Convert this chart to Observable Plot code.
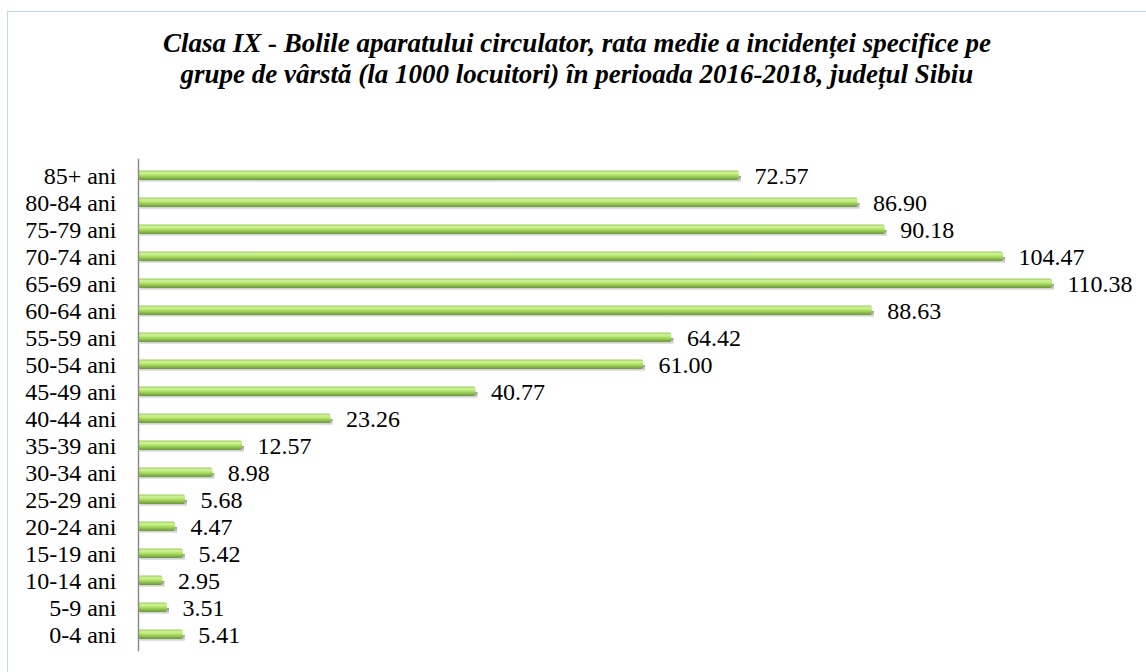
<!DOCTYPE html>
<html>
<head>
<meta charset="utf-8">
<script src="https://cdn.jsdelivr.net/npm/d3@7"></script>
<script src="https://cdn.jsdelivr.net/npm/@observablehq/plot@0.6"></script>
<style>
  html, body { margin: 0; padding: 0; background: #fff; }
  body { width: 1146px; height: 672px; position: relative; overflow: hidden; font-family: "Times New Roman", "Liberation Serif", "DejaVu Serif", serif; }
  #frame { position: absolute; left: 7px; top: 11px; width: 1160px; height: 700px; border-left: 1.5px solid #b9dde8; border-top: 1.5px solid #b9dde8; box-sizing: border-box; }
  #title { position: absolute; left: 7px; top: 28px; width: 1140px; text-align: center; font-family: "Times New Roman", "Liberation Serif", "DejaVu Serif", serif; font-weight: bold; font-style: italic; font-size: 27px; line-height: 31px; color: #000; }
  #chart { position: absolute; left: 0; top: 0; }
</style>
</head>
<body>
<div id="frame"></div>
<div id="chart"></div>
<div id="title">Clasa IX - Bolile aparatului circulator, rata medie a incidenței specifice pe<br>grupe de vârstă (la 1000 locuitori) în perioada 2016-2018, județul Sibiu</div>
<script>
const ageGroups = ["85+ ani","80-84 ani","75-79 ani","70-74 ani","65-69 ani","60-64 ani","55-59 ani","50-54 ani","45-49 ani","40-44 ani","35-39 ani","30-34 ani","25-29 ani","20-24 ani","15-19 ani","10-14 ani","5-9 ani","0-4 ani"];
const rates = [72.57, 86.90, 90.18, 104.47, 110.38, 88.63, 64.42, 61.00, 40.77, 23.26, 12.57, 8.98, 5.68, 4.47, 5.42, 2.95, 3.51, 5.41];

const data = ageGroups.map((g, i) => ({group: g, rate: rates[i]}));

const defs = () => {
  const d = d3.create("svg:defs");
  const g = d.append("linearGradient").attr("id", "barGrad").attr("x1", 0).attr("x2", 0).attr("y1", 0).attr("y2", 1);
  g.append("stop").attr("offset", "0%").attr("stop-color", "#9ccc5e");
  g.append("stop").attr("offset", "25%").attr("stop-color", "#d2f59a");
  g.append("stop").attr("offset", "55%").attr("stop-color", "#a8dc5c");
  g.append("stop").attr("offset", "100%").attr("stop-color", "#6a9640");
  const s = d.append("linearGradient").attr("id", "shadowGrad").attr("x1", 0).attr("x2", 0).attr("y1", 0).attr("y2", 1);
  s.append("stop").attr("offset", "0%").attr("stop-color", "#969696");
  s.append("stop").attr("offset", "100%").attr("stop-color", "#e8e8e8");
  return d.node();
};

const font = "'Times New Roman', 'Liberation Serif', serif";

const chart = Plot.plot({
  width: 1146,
  height: 672,
  marginLeft: 138,
  marginRight: 14.4,
  marginTop: 158.8,
  marginBottom: 20.8,
  style: {fontFamily: font, fontSize: "24px", color: "#000", background: "transparent"},
  x: {domain: [0, 120], axis: null},
  y: {domain: ageGroups, padding: 0, label: null},
  marks: [
    defs,
    Plot.barX(data, {x: "rate", y: "group", insetTop: 14, insetBottom: 7, dx: 2, fill: "url(#shadowGrad)"}),
    Plot.barX(data, {x: "rate", y: "group", insetTop: 8.5, insetBottom: 9, rx: 2, fill: "url(#barGrad)"}),
    Plot.axisY({tickSize: 0, tickPadding: 22, fontSize: 24, label: null}),
    Plot.ruleX([0], {stroke: "#8a8a8a", strokeWidth: 1.5}),
    Plot.text(data, {x: "rate", y: "group", text: d => d.rate.toFixed(2), textAnchor: "start", dx: 15, dy: 0, fontSize: 24, fill: "#000"})
  ]
});
document.getElementById("chart").append(chart);
</script>
</body>
</html>
